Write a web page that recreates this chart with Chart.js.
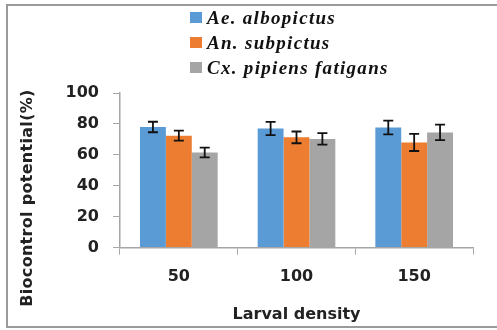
<!DOCTYPE html>
<html>
<head>
<meta charset="utf-8">
<script src="https://cdn.jsdelivr.net/npm/chart.js@4/dist/chart.umd.min.js"></script>
<style>
  html, body { margin: 0; padding: 0; background: #fff; }
  #wrap { position: relative; width: 497px; height: 330px; }
  canvas { position: absolute; left: 0; top: 0; }
  #legend { position: absolute; left: 190px; top: 5px; font-family: "Liberation Serif", "DejaVu Serif", serif;
            font-style: italic; font-weight: bold; font-size: 19px; letter-spacing: 1.3px; color: #111; line-height: 25px; }
  #legend .row { display: flex; align-items: center; height: 25px; }
  #legend .sw { width: 12px; height: 11px; margin-right: 5px; }
</style>
</head>
<body>
<div id="wrap">
  <canvas id="c" width="497" height="330"></canvas>
  <div id="legend"></div>
</div>
<script>
const categories = ["50", "100", "150"];
const seriesNames = ["Ae. albopictus", "An. subpictus", "Cx. pipiens fatigans"];
const aeValues = [78, 77, 77.7];
const anValues = [72.4, 71.3, 68];
const cxValues = [61.5, 70.3, 74.5];
const aeErrors = [3.4, 4.3, 4.4];
const anErrors = [3.2, 3.8, 5.5];
const cxErrors = [3.2, 3.7, 5.0];
const yTicks = [0, 20, 40, 60, 80, 100];
const yTitle = "Biocontrol potential(%)";
const xTitle = "Larval density";
const colors = ["#5B9BD5", "#ED7D31", "#A5A5A5"];

const values = [aeValues, anValues, cxValues];
const errors = [aeErrors, anErrors, cxErrors];

// HTML legend (vertical, like the reference)
const leg = document.getElementById('legend');
seriesNames.forEach((n, i) => {
  const r = document.createElement('div'); r.className = 'row';
  const s = document.createElement('div'); s.className = 'sw'; s.style.background = colors[i];
  const t = document.createElement('span'); t.textContent = n;
  r.appendChild(s); r.appendChild(t); leg.appendChild(r);
});

const frame = {
  id: 'frame',
  beforeDraw(chart) {
    const ctx = chart.ctx;
    ctx.save();
    ctx.fillStyle = '#fff';
    ctx.fillRect(0, 0, chart.width, chart.height);
    ctx.strokeStyle = '#9a9a9a';
    ctx.lineWidth = 2;
    ctx.strokeRect(7, 5, 510, 322);
    ctx.restore();
  },
  afterDraw(chart) {
    // y-axis title, placed like the reference (offset below the plot centre)
    const ctx = chart.ctx;
    ctx.save();
    ctx.translate(28, 198);
    ctx.rotate(-Math.PI / 2);
    ctx.font = 'bold 16px "DejaVu Sans"';
    if ('letterSpacing' in ctx) ctx.letterSpacing = '0.3px';
    ctx.fillStyle = '#222';
    ctx.textAlign = 'center';
    ctx.textBaseline = 'middle';
    ctx.fillText(yTitle, 0, 0);
    ctx.restore();
  }
};

const errorBars = {
  id: 'errorBars',
  afterDatasetsDraw(chart) {
    const ctx = chart.ctx;
    const y = chart.scales.y;
    ctx.save();
    ctx.strokeStyle = '#111';
    ctx.lineWidth = 1.8;
    chart.data.datasets.forEach((ds, di) => {
      const meta = chart.getDatasetMeta(di);
      meta.data.forEach((bar, i) => {
        const v = ds.data[i], e = errors[di][i];
        const x = bar.x;
        const yt = y.getPixelForValue(v + e), yb = y.getPixelForValue(v - e);
        ctx.beginPath();
        ctx.moveTo(x, yt); ctx.lineTo(x, yb);
        ctx.moveTo(x - 5, yt); ctx.lineTo(x + 5, yt);
        ctx.moveTo(x - 5, yb); ctx.lineTo(x + 5, yb);
        ctx.stroke();
      });
    });
    ctx.restore();
  }
};

new Chart(document.getElementById('c'), {
  type: 'bar',
  data: {
    labels: categories,
    datasets: seriesNames.map((n, i) => ({
      label: n,
      data: values[i],
      backgroundColor: colors[i],
      borderWidth: 0,
      categoryPercentage: 0.66,
      barPercentage: 1.0
    }))
  },
  options: {
    responsive: false,
    animation: false,
    devicePixelRatio: 1,
    layout: { padding: { top: 93, right: 24, bottom: 6, left: 20 } },
    plugins: { legend: { display: false }, tooltip: { enabled: false } },
    scales: {
      x: {
        grid: { display: true, drawOnChartArea: false, drawTicks: true, tickLength: 7, color: '#a6a6a6', offset: true },
        border: { display: true, color: '#a6a6a6', width: 1.5 },
        ticks: { color: '#222', font: { family: 'DejaVu Sans', weight: 'bold', size: 16 }, padding: 13 },
        title: { display: true, text: xTitle, color: '#222', font: { family: 'DejaVu Sans', weight: 'bold', size: 16 }, padding: { top: 5, bottom: 0 } }
      },
      y: {
        min: 0, max: 100,
        afterBuildTicks(scale) { scale.ticks = yTicks.map(v => ({ value: v })); },
        grid: { display: true, drawOnChartArea: false, drawTicks: true, tickLength: 7, color: '#a6a6a6' },
        border: { display: true, color: '#a6a6a6', width: 1.5 },
        ticks: { color: '#222', font: { family: 'DejaVu Sans', weight: 'bold', size: 16 }, padding: 14 },
        title: { display: false },
        afterFit(scale) { scale.width = 100; }
      }
    }
  },
  plugins: [frame, errorBars]
});
</script>
</body>
</html>
